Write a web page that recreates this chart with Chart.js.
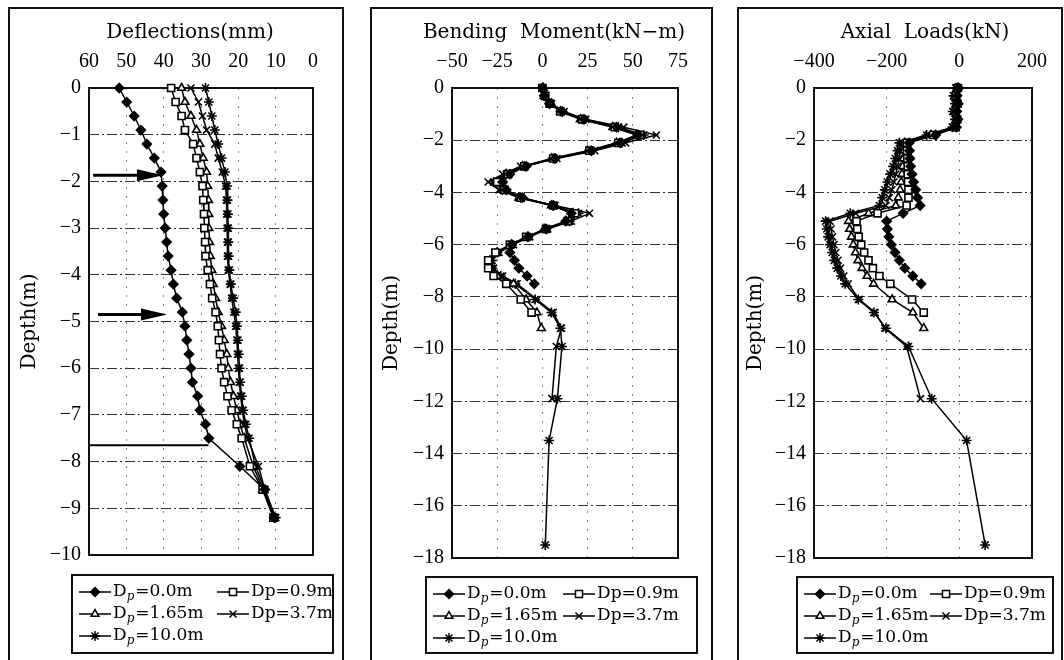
<!DOCTYPE html>
<html>
<head>
<meta charset="utf-8">
<script src="https://cdn.jsdelivr.net/npm/chart.js"></script>
<style>
  html, body { margin: 0; padding: 0; background: #fff; }
  body { width: 1064px; height: 660px; position: relative; overflow: hidden; }
  .frame { position: absolute; top: 7px; height: 660px; border: 2px solid #111; border-bottom: none; box-sizing: border-box; }
  canvas { position: absolute; }
</style>
</head>
<body>
<div class="frame" style="left:8px;width:336px"></div>
<div class="frame" style="left:370px;width:343px"></div>
<div class="frame" style="left:737px;width:326px"></div>
<canvas id="defl" width="330" height="648" style="left:10px;top:10px"></canvas>
<canvas id="moment" width="338" height="648" style="left:372px;top:10px"></canvas>
<canvas id="axial" width="322" height="648" style="left:739px;top:10px"></canvas>

<script>
const seriesNames = ['D_p=0.0m', 'Dp=0.9m', 'D_p=1.65m', 'Dp=3.7m', 'D_p=10.0m'];

// depth (m) of the readings
const depthDefl = [0, -0.3, -0.6, -0.9, -1.2, -1.5, -1.8, -2.1, -2.4, -2.7, -3.0, -3.3, -3.6, -3.9, -4.2, -4.5,
  -4.8, -5.1, -5.4, -5.7, -6.0, -6.3, -6.6, -6.9, -7.2, -7.5, -8.1, -8.6, -9.2];
const depthPile = [0, -0.3, -0.6, -0.9, -1.2, -1.5, -1.8, -2.1, -2.4, -2.7, -3.0, -3.3, -3.6, -3.9, -4.2, -4.5,
  -4.8, -5.1, -5.4, -5.7, -6.0, -6.3, -6.6, -6.9, -7.2, -7.5, -8.1, -8.6, -9.2, -9.9, -11.9, -13.5, -17.5];

// deflections (mm)
const deflDp0 = [51.9, 49.9, 47.9, 46.1, 44.5, 42.5, 40.7, 40.4, 40.2, 40.0, 39.6, 39.2, 38.8, 38.0, 37.4, 36.5,
  35.0, 34.3, 33.8, 33.2, 32.7, 32.3, 30.9, 30.3, 28.8, 27.9, 19.6, 12.9, 10.4];
const deflDp09 = [38.0, 36.8, 35.2, 34.3, 32.1, 31.2, 30.3, 29.6, 29.4, 29.2, 29.1, 28.9, 28.8, 28.2, 27.6, 27.0,
  26.1, 25.5, 25.2, 24.9, 24.5, 23.8, 22.9, 21.8, 20.4, 19.1, 16.9, 13.5, 10.6];
const deflDp165 = [35.2, 34.3, 32.7, 31.2, 30.3, 29.4, 28.5, 28.2, 28.0, 27.9, 27.9, 27.7, 27.5, 27.1, 26.7, 26.1,
  25.4, 24.5, 23.8, 23.1, 22.7, 22.1, 21.3, 20.4, 19.5, 18.4, 16.0, 13.3, 10.4];
const deflDp37 = [32.7, 30.7, 29.6, 28.5, 26.3, 25.4, 24.3, 23.4, 23.2, 23.1, 23.0, 22.9, 22.9, 22.7, 22.2, 21.8,
  21.2, 20.7, 20.4, 20.2, 20.0, 19.7, 19.4, 18.9, 18.4, 17.5, 14.6, 12.9, 10.2];
const deflDp10 = [28.8, 27.9, 27.1, 26.3, 25.4, 24.5, 23.6, 23.0, 22.9, 22.8, 22.7, 22.7, 22.6, 22.4, 22.0, 21.4,
  20.7, 20.4, 20.1, 19.9, 19.7, 19.5, 19.1, 18.7, 18.0, 17.1, 15.4, 12.9, 10.0];

// bending moment (kN-m)
const momDp0 = [0, 1, 4, 11, 23, 41, 53, 43, 27, 7, -9, -18, -22, -20, -11, 6, 16, 13, 2, -8,
  -17, -18, -15.5, -13, -8.5, -4.5];
const momDp09 = [0, 1.5, 4, 10, 22, 40, 54, 42, 26, 6, -10, -19, -25, -21, -12, 6, 18, 14, 2, -9,
  -18, -26, -30, -30, -27, -20, -12, -6];
const momDp165 = [0.5, 1, 5, 10, 21, 39, 52, 41, 25, 5, -11, -20, -24, -22, -13, 5, 17, 13, 1, -8,
  -17, -25, -29, -29, -25, -16, -9, -3, -0.6];
const momDp37 = [0, 2, 5, 12, 24, 45, 63, 46, 29, 8, -12, -22, -30, -24, -13, 7, 26, 16, 3, -7,
  -16, -24, -28, -27, -22, -14, -3, 6, 10.5, 7.7, 5.3];
const momDp10 = [0, 1, 4, 10, 22, 42, 56, 44, 27, 6, -10, -20, -27, -22, -12, 6, 20, 15, 2, -8,
  -17, -25, -28, -28, -23, -15, -4, 5, 10, 10.8, 8.3, 3.7, 1.6];

// axial loads (kN)
const axDp0 = [-2, -6, -3, -7, -4, -8, -65, -138, -137, -136, -134, -130, -126, -120, -115, -108,
  -155, -200, -198, -194, -187, -177, -165, -150, -128, -105];
const axDp09 = [-4, -9, -5, -10, -6, -10, -72, -144, -144, -143, -142, -142, -141, -140, -140, -145,
  -225, -283, -281, -277, -270, -262, -250, -238, -220, -190, -130, -98];
const axDp165 = [-6, -12, -8, -13, -8, -14, -78, -150, -152, -154, -156, -158, -160, -163, -168, -175,
  -250, -305, -302, -297, -292, -286, -279, -268, -254, -236, -185, -128, -98];
const axDp37 = [-8, -14, -10, -16, -10, -17, -84, -158, -162, -166, -170, -175, -180, -186, -193, -202,
  -285, -356, -353, -349, -345, -340, -334, -327, -318, -306, -275, -232, -205, -145, -107];
const axDp10 = [-10, -16, -12, -18, -12, -19, -90, -165, -170, -176, -182, -190, -198, -205, -212, -220,
  -300, -368, -365, -361, -356, -350, -344, -336, -326, -314, -278, -235, -202, -140, -76, 20, 71];

// tick labels
const deflTicks = [60, 50, 40, 30, 20, 10, 0];
const deflDepthTicks = [0, -1, -2, -3, -4, -5, -6, -7, -8, -9, -10];
const momentTicks = [-50, -25, 0, 25, 50, 75];
const axialTicks = [-400, -200, 0, 200];
const pileDepthTicks = [0, -2, -4, -6, -8, -10, -12, -14, -16, -18];

// arrows and the excavation line drawn on the deflection plot
const deflArrows = [[58.9, 40.2, -1.87], [57.6, 39.1, -4.85]];
const excavationLine = [[60, -7.65], [28, -7.65]];

const markers = [
  {pointStyle: 'rectRot', radius: 4.5, fill: '#000'},
  {pointStyle: 'rect', radius: 5, fill: '#fff'},
  {pointStyle: 'triangle', radius: 4.5, fill: '#fff'},
  {pointStyle: 'crossRot', radius: 5, fill: '#000'},
  {pointStyle: 'star', radius: 5, fill: '#000'},
];

const TICK_FONT = {family: '"Liberation Serif", "Times New Roman", serif', size: 20};
const TITLE_FONT = {family: '"DejaVu Serif", serif', size: 20};

const toPoints = (values, depths) => values.map((v, i) => ({x: v, y: depths[i]}));
const fmtTick = (v) => (v < 0 ? '\u2212' + Math.abs(v) : String(v));

function seriesDataset(i, values, depths) {
  const m = markers[i];
  return {
    label: seriesNames[i].replace('_p', '\u209a'),
    data: toPoints(values, depths),
    showLine: true,
    borderColor: '#000',
    borderWidth: 1.5,
    pointStyle: m.pointStyle,
    pointRadius: m.radius,
    pointBackgroundColor: m.fill,
    pointBorderColor: '#000',
    pointBorderWidth: 1.6,
    clip: false,
  };
}

function drawLegendLabel(ctx, text, x, y) {
  const big = '17px "DejaVu Serif", serif';
  ctx.font = big;
  ctx.textAlign = 'left';
  ctx.textBaseline = 'middle';
  const parts = text.split('_p');
  if (parts.length === 2) {
    ctx.fillText(parts[0], x, y);
    x += ctx.measureText(parts[0]).width;
    ctx.font = 'italic 12px "DejaVu Serif", serif';
    ctx.fillText('p', x, y + 5);
    x += ctx.measureText('p').width + 1;
    ctx.font = big;
    ctx.fillText(parts[1], x, y);
  } else {
    ctx.fillText(text, x, y);
  }
}

const panelDecor = {
  id: 'panelDecor',
  beforeDatasetsDraw(chart) {
    const {ctx, chartArea: a} = chart;
    ctx.save();
    ctx.strokeStyle = '#111';
    ctx.lineWidth = 2;
    ctx.strokeRect(a.left, a.top, a.right - a.left, a.bottom - a.top);
    ctx.restore();
  },
  afterDraw(chart, args, opts) {
    const {ctx} = chart;
    const xs = chart.scales.x, ys = chart.scales.y;
    ctx.save();

    // axis title above the top ticks, not squeezed to the plot width
    ctx.fillStyle = '#000';
    ctx.font = '20px "DejaVu Serif", serif';
    ctx.textAlign = 'center';
    ctx.textBaseline = 'middle';
    ctx.fillText(opts.title, opts.titleX, 23);

    ctx.strokeStyle = '#000';
    (opts.arrows || []).forEach(([from, to, depth]) => {
      const x1 = xs.getPixelForValue(from), x2 = xs.getPixelForValue(to), y = ys.getPixelForValue(depth);
      ctx.lineWidth = 3;
      ctx.beginPath();
      ctx.moveTo(x1, y);
      ctx.lineTo(x2 - 20, y);
      ctx.stroke();
      ctx.beginPath();
      ctx.moveTo(x2, y);
      ctx.lineTo(x2 - 26, y - 6);
      ctx.lineTo(x2 - 26, y + 6);
      ctx.closePath();
      ctx.fill();
    });

    const b = opts.legendBox;
    ctx.lineWidth = 2;
    ctx.strokeStyle = '#111';
    ctx.strokeRect(b.x, b.y, b.w, b.h);
    const rows = [17, 39, 61];
    seriesNames.forEach((name, i) => {
      const col = i % 2, row = Math.floor(i / 2);
      const x = b.x + (col ? b.col2 : 7), y = b.y + rows[row];
      const m = markers[i];
      ctx.strokeStyle = '#000';
      ctx.lineWidth = 1.5;
      ctx.beginPath();
      ctx.moveTo(x, y);
      ctx.lineTo(x + 32, y);
      ctx.stroke();
      ctx.fillStyle = m.fill;
      if (Chart.helpers && Chart.helpers.drawPoint) {
        Chart.helpers.drawPoint(ctx, {pointStyle: m.pointStyle, radius: m.radius, rotation: 0, borderWidth: 1.5}, x + 16, y);
      }
      ctx.fillStyle = '#000';
      drawLegendLabel(ctx, name, x + 34, y);
    });
    ctx.restore();
  },
};

function makePanel(id, p) {
  const tickSetter = (arr) => (scale) => { scale.ticks = arr.map((v) => ({value: v})); };
  return new Chart(document.getElementById(id), {
    type: 'scatter',
    data: {datasets: p.datasets},
    plugins: [panelDecor],
    options: {
      responsive: false,
      animation: false,
      events: [],
      layout: {autoPadding: false, padding: {left: 0, top: 0, right: p.padRight, bottom: p.padBottom}},
      plugins: {
        legend: {display: false},
        tooltip: {enabled: false},
        panelDecor: {legendBox: p.legendBox, arrows: p.arrows, title: p.title, titleX: p.titleX},
      },
      scales: {
        x: {
          type: 'linear',
          position: 'top',
          min: p.xMin,
          max: p.xMax,
          reverse: !!p.reverse,
          afterBuildTicks: tickSetter(p.xTicks),
          afterFit: (scale) => { scale.height = 78; },
          ticks: {font: TICK_FONT, color: '#000', padding: 14, maxRotation: 0, autoSkip: false, callback: fmtTick},
          grid: {color: '#888', lineWidth: 1, drawTicks: false},
          border: {display: false, dash: [2, 7]},
        },
        y: {
          type: 'linear',
          min: p.yMin,
          max: 0,
          afterBuildTicks: tickSetter(p.yTicks),
          afterFit: (scale) => { scale.width = p.plotLeft; },
          title: {display: true, text: 'Depth(m)', font: TITLE_FONT, color: '#000', padding: {top: p.yTitlePad, bottom: 0}},
          ticks: {font: TICK_FONT, color: '#000', padding: 8, autoSkip: false, callback: fmtTick},
          grid: {color: '#333', lineWidth: 1, drawTicks: false},
          border: {display: false, dash: [10, 3, 2, 3]},
        },
      },
    },
  });
}

const deflSets = [
  seriesDataset(0, deflDp0, depthDefl),
  seriesDataset(1, deflDp09, depthDefl),
  seriesDataset(2, deflDp165, depthDefl),
  seriesDataset(3, deflDp37, depthDefl),
  seriesDataset(4, deflDp10, depthDefl),
  {
    label: 'excavation',
    data: excavationLine.map(([x, y]) => ({x, y})),
    showLine: true,
    borderColor: '#000',
    borderWidth: 2,
    pointRadius: 0,
  },
];

makePanel('defl', {
  datasets: deflSets,
  title: 'Deflections(mm)', titleX: 180,
  xMin: 0, xMax: 60, reverse: true, xTicks: deflTicks,
  yMin: -10, yTicks: deflDepthTicks,
  plotLeft: 79, padRight: 27, padBottom: 103, yTitlePad: 8,
  legendBox: {x: 62, y: 565, w: 261, h: 78, col2: 145},
  arrows: deflArrows,
});

makePanel('moment', {
  datasets: [
    seriesDataset(0, momDp0, depthPile),
    seriesDataset(1, momDp09, depthPile),
    seriesDataset(2, momDp165, depthPile),
    seriesDataset(3, momDp37, depthPile),
    seriesDataset(4, momDp10, depthPile),
  ],
  title: 'Bending  Moment(kN\u2212m)', titleX: 182,
  xMin: -50, xMax: 75, xTicks: momentTicks,
  yMin: -18, yTicks: pileDepthTicks,
  plotLeft: 80, padRight: 32, padBottom: 100, yTitlePad: 8,
  legendBox: {x: 54, y: 567, w: 271, h: 76, col2: 137},
});

makePanel('axial', {
  datasets: [
    seriesDataset(0, axDp0, depthPile),
    seriesDataset(1, axDp09, depthPile),
    seriesDataset(2, axDp165, depthPile),
    seriesDataset(3, axDp37, depthPile),
    seriesDataset(4, axDp10, depthPile),
  ],
  title: 'Axial  Loads(kN)', titleX: 186,
  xMin: -400, xMax: 200, xTicks: axialTicks,
  yMin: -18, yTicks: pileDepthTicks,
  plotLeft: 75, padRight: 23, padBottom: 100, yTitlePad: 5,
  legendBox: {x: 58, y: 567, w: 256, h: 76, col2: 133},
});
</script>
</body>
</html>
